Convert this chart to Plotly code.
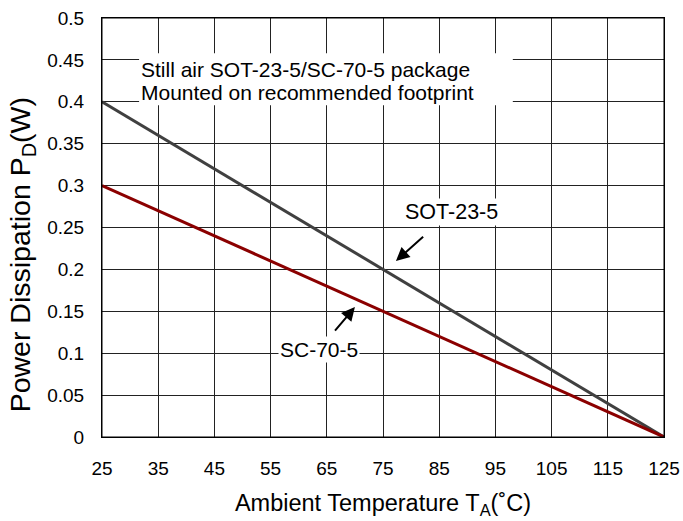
import plotly.graph_objects as go

temp_c = [25, 125]
sot23_w = [0.40, 0.0]
sc70_w = [0.30, 0.0]
x_ticks = [25, 35, 45, 55, 65, 75, 85, 95, 105, 115, 125]
y_ticks = [0, 0.05, 0.1, 0.15, 0.2, 0.25, 0.3, 0.35, 0.4, 0.45, 0.5]
y_tick_text = ["0", "0.05", "0.1", "0.15", "0.2", "0.25", "0.3", "0.35", "0.4", "0.45", "0.5"]
note_lines = ["Still air SOT-23-5/SC-70-5 package", "Mounted on recommended footprint"]

FONT = "Liberation Sans, Arial, sans-serif"

fig = go.Figure()
fig.add_trace(go.Scatter(x=temp_c, y=sot23_w, mode="lines",
                         line=dict(color="#404040", width=3), name="SOT-23-5"))
fig.add_trace(go.Scatter(x=temp_c, y=sc70_w, mode="lines",
                         line=dict(color="#8b0000", width=3), name="SC-70-5"))

# white box behind note text
fig.add_shape(type="rect", xref="x", yref="y", x0=31.6, x1=98.1, y0=0.396, y1=0.458,
              fillcolor="white", line=dict(width=0), layer="above")
# plot frame
fig.add_shape(type="rect", xref="paper", yref="paper", x0=0, x1=1, y0=0, y1=1,
              line=dict(color="black", width=1), fillcolor="rgba(0,0,0,0)", layer="above")

for txt, yy in zip(note_lines, [0.439, 0.4117]):
    fig.add_annotation(x=31.5, y=yy, xref="x", yref="y", xanchor="left", yanchor="middle",
                       align="left", showarrow=False, text=txt,
                       font=dict(family=FONT, size=21, color="black"))

fig.add_annotation(x=77.3, y=0.210, ax=87.1, ay=0.2685, xref="x", yref="y",
                   axref="x", ayref="y", showarrow=True, arrowhead=2, arrowsize=1.35,
                   arrowwidth=2, arrowcolor="black", startstandoff=17,
                   text="SOT-23-5", font=dict(family=FONT, size=21.5, color="black"),
                   bgcolor="white")

fig.add_annotation(x=70.0, y=0.155, ax=63.6, ay=0.104, xref="x", yref="y",
                   axref="x", ayref="y", showarrow=True, arrowhead=2, arrowsize=1.35,
                   arrowwidth=2, arrowcolor="black", startstandoff=8,
                   text="SC-70-5", font=dict(family=FONT, size=21, color="black"),
                   bgcolor="white")

# y-axis title (placed as rotated text to match the reference position)
fig.add_annotation(x=-0.142, y=0.434, xref="paper", yref="paper", showarrow=False,
                   textangle=-90, xanchor="center", yanchor="middle",
                   text="Power Dissipation P<sub>D</sub>(W)",
                   font=dict(family=FONT, size=28.5, color="black"))

fig.update_layout(
    width=683, height=521,
    margin=dict(l=102, r=19, t=18, b=84),
    paper_bgcolor="white", plot_bgcolor="white",
    showlegend=False,
    font=dict(family=FONT, color="black"),
    xaxis=dict(range=[25, 125], tickvals=x_ticks, showgrid=True, gridcolor="#222",
               gridwidth=1, zeroline=False, showline=True, linecolor="black", linewidth=1,
               mirror=True, ticks="", ticklabelstandoff=14, automargin=False,
               ticklabeloverflow="allow",
               tickfont=dict(family=FONT, size=19, color="black"),
               title=dict(text="Ambient Temperature T<sub>A</sub>(˚C)",
                          font=dict(family=FONT, size=23.5, color="black"), standoff=16)),
    yaxis=dict(range=[0, 0.5], tickvals=y_ticks, ticktext=y_tick_text, showgrid=True,
               gridcolor="#222", gridwidth=1, zeroline=False, showline=True,
               linecolor="black", linewidth=1, mirror=True, ticks="", ticklabelstandoff=13,
               automargin=False, ticklabeloverflow="allow",
               tickfont=dict(family=FONT, size=19, color="black")),
)

fig.write_html("out.html", config={"displayModeBar": False},
               post_script="document.body.style.margin='0px';")
